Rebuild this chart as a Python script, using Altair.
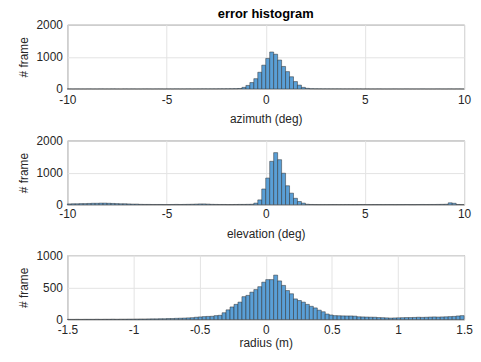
import altair as alt
import numpy as np
import pandas as pd

# ---- data (bin counts) ----
az_start, az_width = -10.0, 0.2
az_counts = [3, 2, 3, 2, 2, 3, 2, 2, 3, 2,
             2, 3, 2, 2, 3, 2, 3, 2, 2, 3,
             3, 2, 3, 3, 2, 3, 3, 4, 3, 3,
             4, 3, 4, 4, 5, 4, 5, 5, 6, 6,
             7, 8, 10,
             15, 50, 110, 200, 320, 520, 740, 950, 1150, 1080, 900, 700, 540, 380, 230, 120, 50, 20,
             9, 7, 6, 5, 5, 4, 4, 4, 3, 3,
             3, 3, 3, 2, 3, 2, 2, 3, 2, 2,
             2, 3, 2, 2, 3, 2, 2, 2, 3, 2,
             2, 2, 3, 2, 2, 3, 2, 3, 2]

el_start, el_width = -10.0, 0.2
el_counts = [25, 30, 30, 35, 35, 40, 45, 45, 50, 50, 45, 40, 35, 30, 30, 25, 20, 20,
             12, 10, 10, 8, 8, 8, 6, 6, 8, 10, 8, 10, 12, 15, 20, 25, 25, 20, 12, 10, 8, 8, 6, 6, 8, 10, 10, 12,
             15, 50, 150, 490, 830, 1350, 1620, 1400, 980, 590, 360, 200, 100, 50, 15,
             8, 6, 5, 5, 5, 6, 6, 5, 5, 6,
             5, 5, 6, 6, 5, 5, 6, 6, 5, 6,
             6, 5, 6, 6, 7, 6, 6, 7, 8, 7,
             8, 8, 10, 12, 15, 60, 45, 8, 5]

rad_start, rad_width = -1.5, 0.03
rad_counts = [2, 2, 3, 2, 3, 3, 3, 4, 3, 4, 4, 5, 4, 5, 5, 6, 6,
              7, 8, 8, 9, 10, 10, 12, 12, 15, 15, 18, 20, 22,
              25, 28, 35, 40, 45, 48, 50, 60, 65,
              105, 150, 195, 235, 270, 355, 375, 425, 465, 510, 580, 620, 620, 690,
              600, 530, 450, 400, 320, 295, 270, 235, 205, 180, 145, 120, 85, 70, 60,
              58, 56, 55, 55, 52, 42, 40, 38, 36, 35, 30, 28, 25, 22, 24, 26,
              28, 30, 30, 32, 35, 33, 35, 38, 40, 38, 40, 42, 45, 48, 55, 60]

az_ticks = [-10, -5, 0, 5, 10]
el_ticks = [-10, -5, 0, 5, 10]
rad_ticks = [-1.5, -1, -0.5, 0, 0.5, 1, 1.5]
az_yticks = [0, 1000, 2000]
el_yticks = [0, 1000, 2000]
rad_yticks = [0, 500, 1000]

FONT = "Liberation Sans"
TXT = "#262626"
LABEL = "'' + datum.value"


def make_df(counts, start, width):
    edges = start + width * np.arange(len(counts) + 1)
    return pd.DataFrame({"x0": edges[:-1], "x1": edges[1:], "count": counts})


def panel(df, xdom, xticks, ydom, yticks, xtitle, lab_pad, title_pad, title=None):
    xaxis = alt.Axis(values=xticks, title=xtitle, labelExpr=LABEL, labelFlush=False,
                     grid=True, ticks=False, domain=False, labelPadding=lab_pad,
                     titlePadding=title_pad)
    yaxis = alt.Axis(values=yticks, title="# frame", labelExpr=LABEL, grid=True,
                     ticks=False, domain=False, labelPadding=5, titlePadding=6)
    props = dict(width=401, height=65)
    if title is not None:
        props["title"] = alt.TitleParams(title, fontSize=13, fontWeight="bold",
                                         color="#000000", font=FONT, frame="group",
                                         anchor="middle", offset=-2)
    return alt.Chart(df).mark_rect(fill="#5a9fd6", stroke="#2a2a2a",
                                   strokeWidth=0.5).encode(
        x=alt.X("x0:Q", scale=alt.Scale(domain=xdom, nice=False, zero=False), axis=xaxis),
        x2="x1:Q",
        y=alt.Y("count:Q", scale=alt.Scale(domain=ydom, nice=False), axis=yaxis),
        y2=alt.datum(0),
    ).properties(**props)


p1 = panel(make_df(az_counts, az_start, az_width), [-10, 10], az_ticks, [0, 2000],
           az_yticks, "azimuth (deg)", 6, 8, title="error histogram")
p2 = panel(make_df(el_counts, el_start, el_width), [-10, 10], el_ticks, [0, 2000],
           el_yticks, "elevation  (deg)", 4, 9)
p3 = panel(make_df(rad_counts, rad_start, rad_width), [-1.5, 1.5], rad_ticks, [0, 1000],
           rad_yticks, "radius (m)", 5, 2)

chart = alt.vconcat(p1, p2, p3, spacing=8).properties(
    padding={"left": 8, "top": -3, "right": 0, "bottom": 0},
    background="white",
).configure_view(
    stroke="#7a7a7a", strokeWidth=1
).configure_axis(
    labelFont=FONT, titleFont=FONT, labelFontSize=12, titleFontSize=12,
    labelColor=TXT, titleColor=TXT, titleFontWeight="normal",
    gridColor="#e3e3e3", gridWidth=1
)

chart.save("out.html", embed_options={"renderer": "svg", "actions": False})
